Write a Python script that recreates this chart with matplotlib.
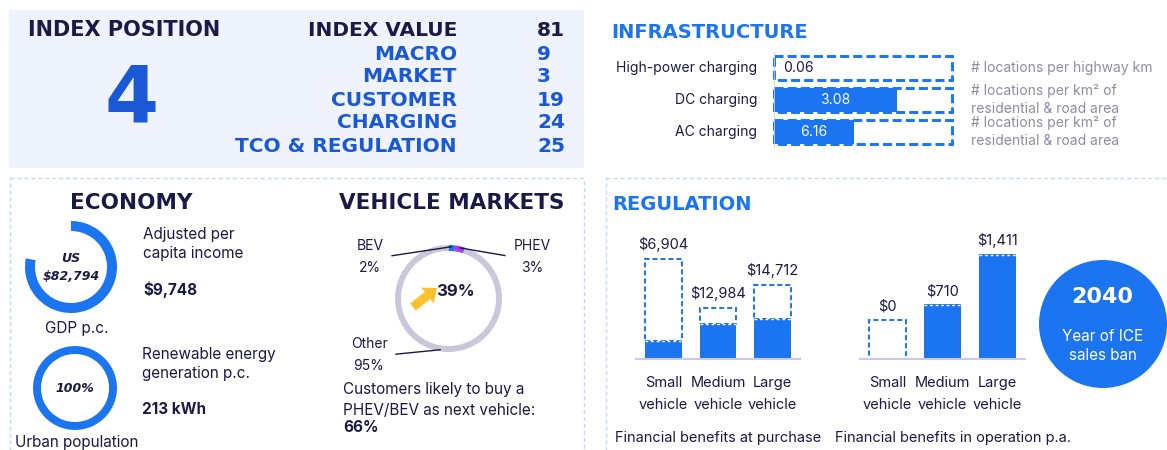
import matplotlib
matplotlib.use("Agg")
import matplotlib.pyplot as plt
import matplotlib.patches as mpatches
import numpy as np

# ---------------- data ----------------
index_position = "4"
index_labels = ["INDEX VALUE", "MACRO", "MARKET", "CUSTOMER", "CHARGING", "TCO & REGULATION"]
index_values = ["81", "9", "3", "19", "24", "25"]

infra_labels = ["High-power charging", "DC charging", "AC charging"]
infra_values = ["0.06", "3.08", "6.16"]
infra_scores = [0.0, 0.69, 0.45]          # share of the benchmark bar
infra_units = ["# locations per highway km",
               "# locations per km² of\nresidential & road area",
               "# locations per km² of\nresidential & road area"]

gdp_text = "US\n$82,794"
gdp_share = 0.78
urban_share = 1.0
urban_text = "100%"
income_value = "$9,748"
renewable_value = "213 kWh"

vm_labels = ["BEV\n2%", "PHEV\n3%", "Other\n95%"]
vm_shares = [2, 3, 95]
vm_next = "39%"
likely_value = "66%"

veh_cats = ["Small\nvehicle", "Medium\nvehicle", "Large\nvehicle"]
purchase_labels = ["$6,904", "$12,984", "$14,712"]
purchase_fill = [0.18, 0.35, 0.40]
purchase_ref = [1.00, 0.51, 0.74]
oper_labels = ["$0", "$710", "$1,411"]
oper_fill = [0.0, 0.54, 1.04]
oper_ref = [0.39, 0.54, 1.04]
ice_ban_year = "2040"

# ---------------- style ----------------
NAVY = "#1b1a46"
BLUE = "#1b74f0"
IBLUE = "#1a58d8"
GREY = "#8c8ca6"
PANEL = "#eef3fd"
BORDER = "#c5d9f7"
RING = "#c9c7d9"
PURPLE = "#a640e8"
YELLOW = "#f9c22e"
BASE = "#cfc6f5"
HEAD = "DejaVu Sans"
BODY = ["Inter", "DejaVu Sans"]

W, H = 1167, 450
fig = plt.figure(figsize=(W / 100, H / 100), dpi=100)
bg = fig.add_axes([0, 0, 1, 1])
bg.set_xlim(0, W)
bg.set_ylim(H, 0)
bg.axis("off")


def px_axes(x0, y0, x1, y1):
    ax = fig.add_axes([x0 / W, 1 - y1 / H, (x1 - x0) / W, (y1 - y0) / H])
    ax.set_facecolor("none")
    return ax


def body(x, y, s, size=11, **kw):
    kw.setdefault("color", NAVY)
    kw.setdefault("va", "center")
    return bg.text(x, y, s, fontsize=size, family=BODY, **kw)


# ---------------- index panel ----------------
bg.add_patch(mpatches.Rectangle((9, 10), 575, 158, fc=PANEL, ec="none"))
bg.text(28, 30, "INDEX POSITION", fontsize=15, family=HEAD, weight="bold",
        color=NAVY, va="center", ha="left")
bg.text(132, 100, index_position, fontsize=56, family=HEAD, weight="bold",
        color=IBLUE, va="center", ha="center")
row_y = [31, 54, 77, 100, 123, 146]
for i, (lab, val) in enumerate(zip(index_labels, index_values)):
    col = NAVY if i == 0 else IBLUE
    bg.text(457, row_y[i], lab, fontsize=14.5, family=HEAD, weight="bold",
            color=col, va="center", ha="right")
    bg.text(537, row_y[i], val, fontsize=14.5, family=HEAD, weight="bold",
            color=col, va="center", ha="left")

# ---------------- infrastructure ----------------
bg.text(611, 33, "INFRASTRUCTURE", fontsize=14, family=HEAD, weight="bold",
        color=BLUE, va="center", ha="left")
iax = px_axes(774, 52, 952, 148)
ypos = np.arange(len(infra_labels))
iax.barh(ypos, [1] * len(ypos), height=0.76, fill=False, ec=BLUE, lw=2.1,
         ls=(0, (3.1, 1.4)), clip_on=False, zorder=2)
iax.barh(ypos, infra_scores, height=0.76, color=BLUE, ec="none", zorder=3)
iax.set_xlim(0, 1)
iax.set_ylim(2.5, -0.5)
iax.axvline(0, color=BASE, lw=1.2, zorder=4)
iax.axis("off")
tr = iax.get_yaxis_transform()
for i in ypos:
    iax.text(-0.095, i, infra_labels[i], transform=tr, ha="right", va="center",
             fontsize=10, family=BODY, color=NAVY)
    iax.text(1.105, i, infra_units[i], transform=tr, ha="left", va="center",
             fontsize=10, family=BODY, color=GREY, linespacing=1.38)
    s = infra_scores[i]
    if s < 0.2:
        iax.text(s + 0.05, i, infra_values[i], ha="left", va="center",
                 fontsize=10, family=BODY, color=NAVY, zorder=5)
    else:
        iax.text(s / 2, i, infra_values[i], ha="center", va="center",
                 fontsize=10, family=BODY, color="white", zorder=5)

# ---------------- panel borders ----------------
for x0, w in [(9.5, 574), (606, 570)]:
    bg.add_patch(mpatches.Rectangle((x0, 178), w, 300, fill=False, ec=BORDER,
                                    lw=1, ls=(0, (3, 2))))

# ---------------- economy ----------------
bg.text(131, 203, "ECONOMY", fontsize=15.5, family=HEAD, weight="bold",
        color=NAVY, va="center", ha="center")
gax = px_axes(25, 221, 117, 313)
gax.pie([gdp_share, 1 - gdp_share], startangle=90, counterclock=False,
        colors=[BLUE, "none"], radius=1, wedgeprops=dict(width=10 / 46, ec="none"))
gax.set_xlim(-1, 1)
gax.set_ylim(-1, 1)
gax.text(0, 0, gdp_text, ha="center", va="center", fontsize=9, family=HEAD,
         weight="bold", style="italic", color=NAVY, linespacing=1.5)
body(77, 328, "GDP p.c.", 11, ha="center")

uax = px_axes(32, 345, 118, 431)
uax.pie([urban_share], startangle=90, counterclock=False, colors=[BLUE],
        radius=1, wedgeprops=dict(width=10 / 43, ec="white", lw=1.5))
uax.set_xlim(-1, 1)
uax.set_ylim(-1, 1)
uax.text(0, 0, urban_text, ha="center", va="center", fontsize=9, family=HEAD,
         weight="bold", style="italic", color=NAVY)
body(15, 443, "Urban population", 11, ha="left")

body(143, 244, "Adjusted per\ncapita income", 11, ha="left", linespacing=1.35)
body(143, 290, income_value, 11, ha="left", weight="bold")
body(142, 364, "Renewable energy\ngeneration p.c.", 11, ha="left", linespacing=1.35)
body(142, 410, renewable_value, 11, ha="left", weight="bold")

# ---------------- vehicle markets ----------------
bg.text(452, 203, "VEHICLE MARKETS", fontsize=15.5, family=HEAD, weight="bold",
        color=NAVY, va="center", ha="center")
vax = px_axes(395, 245, 502, 352)
wedges, _ = vax.pie(vm_shares, startangle=90, counterclock=False,
                    colors=[BLUE, PURPLE, RING], radius=1,
                    wedgeprops=dict(width=6 / 53.5, ec="none"))
vax.set_xlim(-1, 1)
vax.set_ylim(-1, 1)
label_pos = [(370, 257), (532, 257), (369, 355)]
relpos = [(1, 0.5), (0, 0.5), (1, 0.5)]
for wdg, lab, pos, rp in zip(wedges, vm_labels, label_pos, relpos):
    th = np.deg2rad((wdg.theta1 + wdg.theta2) / 2)
    vax.annotate(lab, xy=(0.97 * np.cos(th), 0.97 * np.sin(th)), xycoords="data",
                 xytext=pos, textcoords=bg.transData, ha="center", va="center",
                 fontsize=10, family=BODY, color=NAVY, linespacing=1.76,
                 arrowprops=dict(arrowstyle="-", color=NAVY, lw=1, relpos=rp,
                                 shrinkA=4, shrinkB=0))
bg.add_patch(mpatches.FancyArrow(413, 307, 24, -19, width=9, head_width=20,
                                 head_length=12, length_includes_head=True,
                                 color=YELLOW, ec="none"))
body(455, 292, vm_next, 12, ha="center", weight="bold")
body(343, 400, "Customers likely to buy a\nPHEV/BEV as next vehicle:", 11,
     ha="left", linespacing=1.5)
body(343, 427, likely_value, 11, ha="left", weight="bold")

# ---------------- regulation ----------------
bg.text(612, 204, "REGULATION", fontsize=14, family=HEAD, weight="bold",
        color=BLUE, va="center", ha="left")


def reg_chart(x0, x1, fill, ref, labels):
    ax = px_axes(x0, 239, x1, 359)
    x = np.arange(len(fill))
    w = 0.67
    ax.bar(x, fill, width=w, color=BLUE, ec="none", zorder=2)
    ax.bar(x, np.array(ref) - np.array(fill), bottom=fill, width=w, fill=False,
           ec=BLUE, lw=1.4, ls=(0, (2.6, 1.5)), zorder=3, clip_on=False)
    for xi, f, r, lab in zip(x, fill, ref, labels):
        if f > 0:
            ax.hlines(f, xi - w / 2, xi + w / 2, color="white", lw=1,
                      ls=(0, (2, 2)), zorder=4)
        ax.annotate(lab, xy=(xi, max(f, r)), xytext=(0, 5),
                    textcoords="offset points", ha="center", va="bottom",
                    fontsize=10.5, family=BODY, color=NAVY)
    ax.axhline(0, color=BASE, lw=1.5, zorder=5, clip_on=False)
    ax.set_xlim(-0.5, 2.5)
    ax.set_ylim(0, 1.2)
    ax.set_xticks(x)
    ax.set_xticklabels(veh_cats, fontsize=10.5, family=BODY, color=NAVY,
                       linespacing=1.76)
    ax.tick_params(axis="x", length=0, pad=12)
    ax.set_yticks([])
    for sp in ax.spines.values():
        sp.set_visible(False)
    return ax


reg_chart(636, 800, purchase_fill, purchase_ref, purchase_labels)
reg_chart(860, 1025, oper_fill, oper_ref, oper_labels)
body(615, 438, "Financial benefits at purchase", 10.5, ha="left")
body(835, 438, "Financial benefits in operation p.a.", 10.5, ha="left")

bg.add_patch(mpatches.Circle((1103, 324), 64, color=BLUE, ec="none"))
bg.text(1102, 297, ice_ban_year, fontsize=16, family=HEAD, weight="bold",
        color="white", ha="center", va="center")
body(1103, 346, "Year of ICE\nsales ban", 11, ha="center", color="white",
     linespacing=1.35)

fig.savefig("out.png", dpi=100)
